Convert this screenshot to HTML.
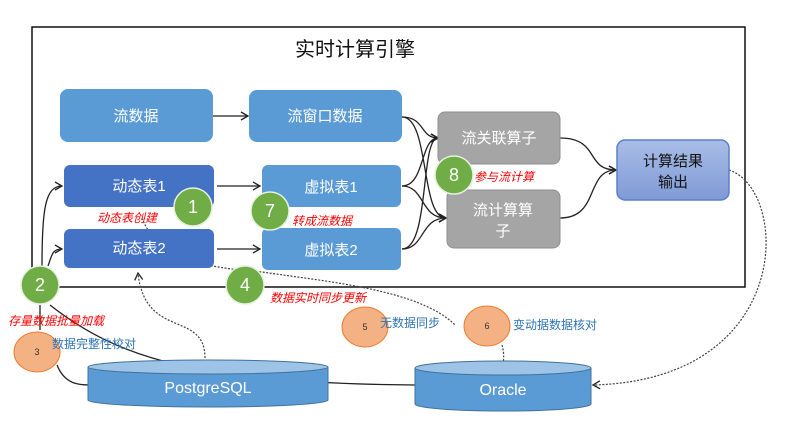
<!DOCTYPE html>
<html><head><meta charset="utf-8"><style>
body{margin:0;background:#fff}
svg text{font-family:"Liberation Sans","Noto Sans CJK SC",sans-serif}
</style></head><body>
<svg width="796" height="428" viewBox="0 0 796 428" xmlns="http://www.w3.org/2000/svg">
<defs>
<marker id="a" markerWidth="10" markerHeight="10" refX="8" refY="5" orient="auto" markerUnits="userSpaceOnUse"><path d="M1,1 L8,5 L1,9" fill="none" stroke="#222" stroke-width="1.3"/></marker>
<linearGradient id="g" x1="0" y1="0" x2="0" y2="1"><stop offset="0" stop-color="#a9bde6"/><stop offset="1" stop-color="#7f9ad6"/></linearGradient>
</defs>
<rect x="32" y="27" width="713" height="260" fill="none" stroke="#111" stroke-width="1.5"/>
<text x="355" y="56" font-size="20" text-anchor="middle" fill="#111">实时计算引擎</text>

<g fill="none" stroke="#222" stroke-width="1.3">
<path d="M213,116 H248" marker-end="url(#a)"/>
<path d="M217,186 H260" marker-end="url(#a)"/>
<path d="M217,249 H260" marker-end="url(#a)"/>
<path d="M402,117 C425,117 420,138 438,138" marker-end="url(#a)"/>
<path d="M402,117 C430,117 420,218 446,218" marker-end="url(#a)"/>
<path d="M402,186 C425,186 420,138 438,138" marker-end="url(#a)"/>
<path d="M402,186 C425,186 420,218 446,218" marker-end="url(#a)"/>
<path d="M402,249 C430,249 420,138 438,138" marker-end="url(#a)"/>
<path d="M402,249 C425,249 420,218 446,218" marker-end="url(#a)"/>
<path d="M560,138 C600,138 585,170 616,170" marker-end="url(#a)"/>
<path d="M560,218 C600,218 585,170 616,170" marker-end="url(#a)"/>
<path d="M42,266 C42,210 45,186 62,186" marker-end="url(#a)"/>
<path d="M48,266 C52,255 52,249 62,249" marker-end="url(#a)"/>
<path d="M50,305 C120,360 200,383 415,385"/>
<path d="M57,365 C65,385 80,385 90,385"/>
<path d="M40,305 V330"/>
</g>
<g fill="none" stroke="#444" stroke-width="1.2" stroke-dasharray="2,1.5">
<path d="M205,358 C205,310 145,340 138,273" marker-end="url(#a)"/>
<path d="M142,218 C160,265 220,268 262,272 C330,282 420,290 455,325"/>
<path d="M502,345 C505,355 503,362 503,368"/>
<path d="M729,170 C790,190 795,380 593,385" marker-end="url(#a)"/>
</g>

<g font-size="15" text-anchor="middle" fill="#fff">
<rect x="60" y="89" width="153" height="53" rx="8" fill="#5b9bd5"/>
<text x="136" y="121">流数据</text>
<rect x="249" y="90" width="153" height="52" rx="8" fill="#5b9bd5"/>
<text x="325" y="121">流窗口数据</text>
<rect x="64" y="165" width="150" height="42" rx="6" fill="#4472c4"/>
<text x="139" y="191">动态表1</text>
<rect x="64" y="229" width="150" height="39" rx="6" fill="#4472c4"/>
<text x="139" y="253">动态表2</text>
<rect x="262" y="165" width="139" height="42" rx="6" fill="#5b9bd5"/>
<text x="331" y="192">虚拟表1</text>
<rect x="262" y="228" width="139" height="42" rx="6" fill="#5b9bd5"/>
<text x="331" y="255">虚拟表2</text>
<rect x="438" y="112" width="122" height="52" rx="7" fill="#a5a5a5" stroke="#8f8f8f"/>
<text x="499" y="143">流关联算子</text>
<rect x="447" y="190" width="113" height="58" rx="7" fill="#a5a5a5" stroke="#8f8f8f"/>
<text x="503" y="215">流计算算</text>
<text x="503" y="236">子</text>
<rect x="617" y="140" width="112" height="60" rx="8" fill="url(#g)" stroke="#5b7fcf" stroke-width="1.5"/>
<text x="673" y="166" fill="#111">计算结果</text>
<text x="673" y="187" fill="#111">输出</text>
</g>

<g>
<path d="M88,367 V400 A120,7 0 0 0 328,400 V367" fill="#5b9bd5" stroke="#41719c"/>
<ellipse cx="208" cy="367" rx="120" ry="7" fill="#9dc3e6" stroke="#41719c"/>
<text x="208" y="393" font-size="16" fill="#fff" text-anchor="middle">PostgreSQL</text>
<path d="M415,368 V404 A88,7 0 0 0 591,404 V368" fill="#5b9bd5" stroke="#41719c"/>
<ellipse cx="503" cy="368" rx="88" ry="7" fill="#9dc3e6" stroke="#41719c"/>
<text x="503" y="395" font-size="16" fill="#fff" text-anchor="middle">Oracle</text>
</g>

<g fill="#70ad47" stroke="#e6f0dc" stroke-width="1.5">
<circle cx="193" cy="207" r="19"/><circle cx="270" cy="211" r="19"/>
<circle cx="40" cy="285" r="19"/><circle cx="245" cy="285" r="19"/>
<circle cx="454" cy="175" r="19"/>
</g>
<g font-size="18" fill="#fff" text-anchor="middle">
<text x="193" y="213">1</text><text x="270" y="217">7</text>
<text x="40" y="291">2</text><text x="245" y="291">4</text><text x="454" y="181">8</text>
</g>
<g fill="#f4b183" stroke="#ed7d31" stroke-width="1">
<ellipse cx="37" cy="352" rx="23" ry="20"/>
<ellipse cx="365" cy="327" rx="23" ry="20"/>
<ellipse cx="487" cy="326" rx="23" ry="20"/>
</g>
<g font-size="9" fill="#333" text-anchor="middle">
<text x="37" y="355">3</text><text x="365" y="330">5</text><text x="487" y="329">6</text>
</g>

<g font-size="12" fill="#ff0000" font-style="italic">
<text x="97" y="222">动态表创建</text>
<text x="292" y="225">转成流数据</text>
<text x="270" y="302">数据实时同步更新</text>
<text x="8" y="325">存量数据批量加载</text>
<text x="474" y="181">参与流计算</text>
</g>
<g font-size="12" fill="#2e75b6">
<text x="52" y="348">数据完整性校对</text>
<text x="380" y="327">无数据同步</text>
<text x="513" y="329">变动据数据核对</text>
</g>
</svg>
</body></html>
